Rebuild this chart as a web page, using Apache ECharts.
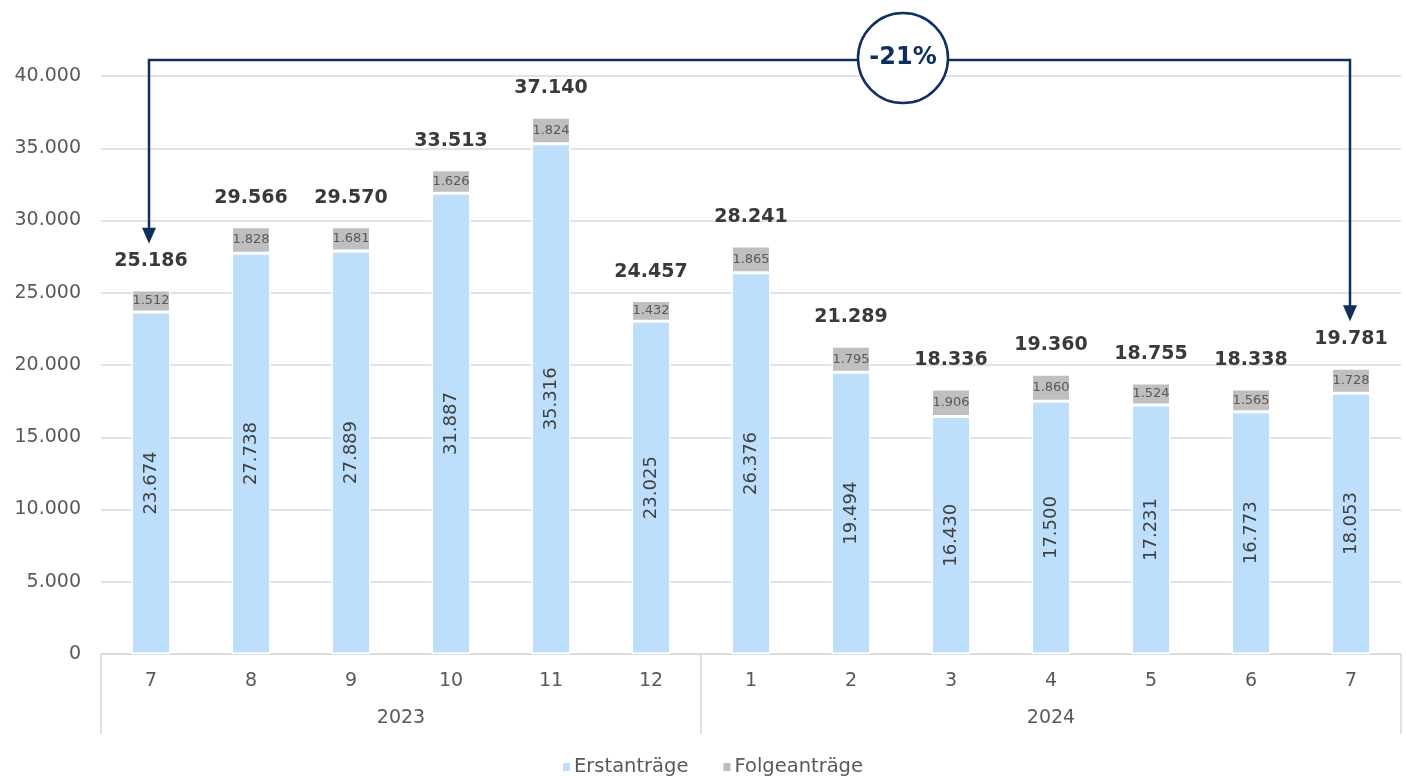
<!DOCTYPE html>
<html>
<head>
<meta charset="utf-8">
<script src="https://cdn.jsdelivr.net/npm/echarts@6/dist/echarts.min.js"></script>
<style>
html,body{margin:0;padding:0;background:#fff;}
#c{width:1406px;height:776px;}
</style>
</head>
<body>
<div id="c"></div>
<script>
const months = ['7','8','9','10','11','12','1','2','3','4','5','6','7'];
const years = ['2023','2024'];
const monthsPerYear = [6, 7];
const erstantraege = [23674,27738,27889,31887,35316,23025,26376,19494,16430,17500,17231,16773,18053];
const folgeantraege = [1512,1828,1681,1626,1824,1432,1865,1795,1906,1860,1524,1565,1728];
const yTicks = {min:0, max:40000, interval:5000};
const changeLabel = '-21%';

const totals = erstantraege.map((v,i)=>v+folgeantraege[i]);
const fmt = n => String(n).replace(/\B(?=(\d{3})+(?!\d))/g,'.');

const yearBounds = [0]; monthsPerYear.forEach(m=>yearBounds.push(yearBounds[yearBounds.length-1]+m));
const yearCenters = monthsPerYear.map((m,i)=>yearBounds[i]+m/2);

const FONT = 'DejaVu Sans';
const chart = echarts.init(document.getElementById('c'), null, {renderer:'canvas'});
const option = {
  animation:false,
  textStyle:{fontFamily:FONT},
  grid:{left:101,right:5,top:76,bottom:122,containLabel:false},
  legend:{
    data:['Erstanträge','Folgeanträge'],
    top:752, left:556,
    itemWidth:9,itemHeight:10,itemGap:33,
    icon:'rect',
    textStyle:{fontFamily:FONT,fontSize:19.5,color:'#595959',padding:[0,0,0,-2]}
  },
  xAxis:[{
    type:'category', data:months, boundaryGap:true,
    axisLine:{show:true,lineStyle:{color:'#d9d9d9',width:1.5}},
    axisTick:{show:false},
    axisLabel:{fontFamily:FONT,fontSize:19,color:'#595959',margin:18}
  },{
    type:'value', min:0, max:months.length, position:'bottom',
    axisLine:{show:false}, splitLine:{show:false},
    axisTick:{show:true,customValues:yearBounds,length:80,lineStyle:{color:'#d9d9d9',width:1.5}},
    axisLabel:{show:true,customValues:yearCenters,margin:55,fontFamily:FONT,fontSize:19,color:'#595959',
      formatter:v=>{const i=yearCenters.indexOf(v);return i>=0?years[i]:'';}}
  }],
  yAxis:{
    type:'value', min:yTicks.min, max:yTicks.max, interval:yTicks.interval,
    axisLine:{show:false}, axisTick:{show:false},
    splitLine:{lineStyle:{color:'#d9d9d9',width:1.5}},
    axisLabel:{fontFamily:FONT,fontSize:19,color:'#595959',margin:20,formatter:v=>fmt(v)}
  },
  series:[{
    name:'Erstanträge', type:'bar', stack:'a', data:erstantraege, barWidth:39,
    itemStyle:{color:'#bddffb',borderColor:'#fff',borderWidth:1.5},
    label:{show:true,position:'inside',rotate:90,fontFamily:FONT,fontSize:18,color:'#404040',formatter:p=>fmt(p.value)}
  },{
    name:'Folgeanträge', type:'bar', stack:'a', data:folgeantraege, barWidth:39,
    itemStyle:{color:'#bfbfbf',borderColor:'#fff',borderWidth:1.5},
    label:{show:true,position:'inside',fontFamily:FONT,fontSize:13,color:'#595959',formatter:p=>fmt(p.value)}
  },{
    name:'Gesamt', type:'scatter', data:totals, symbolSize:1,
    itemStyle:{color:'rgba(255,255,255,0)',opacity:1},
    label:{show:true,position:'top',distance:19,fontFamily:FONT,fontWeight:'bold',fontSize:19,color:'#3a3a3a',opacity:1,formatter:p=>fmt(p.value)},
    silent:true
  }]
};
chart.setOption(option);

const first = 0, last = months.length-1;
const topVal = 41100;
const P = v => chart.convertToPixel({xAxisIndex:0,yAxisIndex:0}, v);
const tipL = P([first, totals[first]+3200]);
const tipR = P([last, totals[last]+3250]);
const topL = P([first, topVal]);
const topR = P([last, topVal]);
const circ = P([7, topVal]);
const NAVY = '#0f2f5f';
const xL = topL[0]-2, xR = topR[0]-1, yT = topL[1];
const ah = 16, aw = 7;
chart.setOption({graphic:[
  {type:'polyline',shape:{points:[[xL,tipL[1]-ah+1],[xL,yT],[xR,yT],[xR,tipR[1]-ah+1]]},style:{stroke:NAVY,lineWidth:2.5,fill:null},z:10},
  {type:'polygon',shape:{points:[[xL-aw,tipL[1]-ah],[xL+aw,tipL[1]-ah],[xL,tipL[1]]]},style:{fill:NAVY},z:10},
  {type:'polygon',shape:{points:[[xR-aw,tipR[1]-ah],[xR+aw,tipR[1]-ah],[xR,tipR[1]]]},style:{fill:NAVY},z:10},
  {type:'circle',shape:{cx:circ[0]+52,cy:yT-2,r:45},style:{fill:'#fff',stroke:NAVY,lineWidth:2.5},z:11},
  {type:'text',x:circ[0]+52,y:yT-2,style:{text:changeLabel,fontFamily:FONT,fontWeight:'bold',fontSize:24,fill:NAVY,align:'center',verticalAlign:'middle'},z:12}
]});
</script>
</body>
</html>
